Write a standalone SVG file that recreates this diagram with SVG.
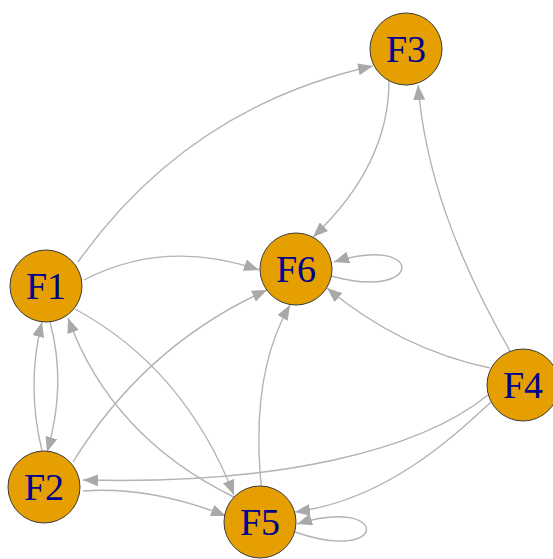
<svg xmlns="http://www.w3.org/2000/svg" width="553" height="559" viewBox="0 0 553 559">
<style>
.e{fill:none;stroke:#B3B3B3;stroke-width:1.4;marker-end:url(#ah)}
.n circle{fill:#E69F00;stroke:#3a3a3a;stroke-width:1}
.n text{font-family:"Liberation Serif","Times New Roman",serif;font-size:38px;fill:#00008B;text-anchor:middle}
</style>
<defs>
<marker id="ah" markerUnits="userSpaceOnUse" markerWidth="16" markerHeight="12" refX="15" refY="6" orient="auto" viewBox="0 0 16 12">
<path d="M0,0 L15,6 L0,12 z" fill="#A9A9A9"/>
</marker>
</defs>
<rect width="553" height="559" fill="#ffffff"/>
<g id="edges">
<path class="e" d="M78,262 Q188,107 373,66"/>
<path class="e" d="M389,81 Q389,165 313,237"/>
<path class="e" d="M510,351 C455,255 425,170 418,85"/>
<path class="e" d="M84,280 Q165,238 259,270"/>
<path class="e" d="M331,276 C425,302 425,233 334,262"/>
<path class="e" d="M490,368 Q400,349 327,288"/>
<path class="e" d="M488,395 C420,450 280,485 83,480"/>
<path class="e" d="M491,402 C450,440 385,500 295,512"/>
<path class="e" d="M295,532 C390,565 390,495 297,524"/>
<path class="e" d="M262,493 C255,430 258,360 290,305"/>
<path class="e" d="M73,462 Q145,345 267,290"/>
<path class="e" d="M83,491 Q150,486 226,516"/>
<path class="e" d="M42,451 Q26,385 42,322"/>
<path class="e" d="M50,322 Q67,385 47,452"/>
<path class="e" d="M75,309 Q184,368 234,495"/>
<path class="e" d="M234,497 Q111,437 68,318"/>
</g>
<g id="F3" class="n"><circle cx="406" cy="49" r="36"/><text x="406" y="62">F3</text></g>
<g id="F1" class="n"><circle cx="46" cy="286" r="36"/><text x="46" y="299">F1</text></g>
<g id="F6" class="n"><circle cx="296" cy="269" r="36"/><text x="296" y="282">F6</text></g>
<g id="F4" class="n"><circle cx="523" cy="385" r="36"/><text x="523" y="398">F4</text></g>
<g id="F2" class="n"><circle cx="44" cy="487" r="36"/><text x="44" y="500">F2</text></g>
<g id="F5" class="n"><circle cx="260" cy="522" r="36"/><text x="260" y="535">F5</text></g>
</svg>
